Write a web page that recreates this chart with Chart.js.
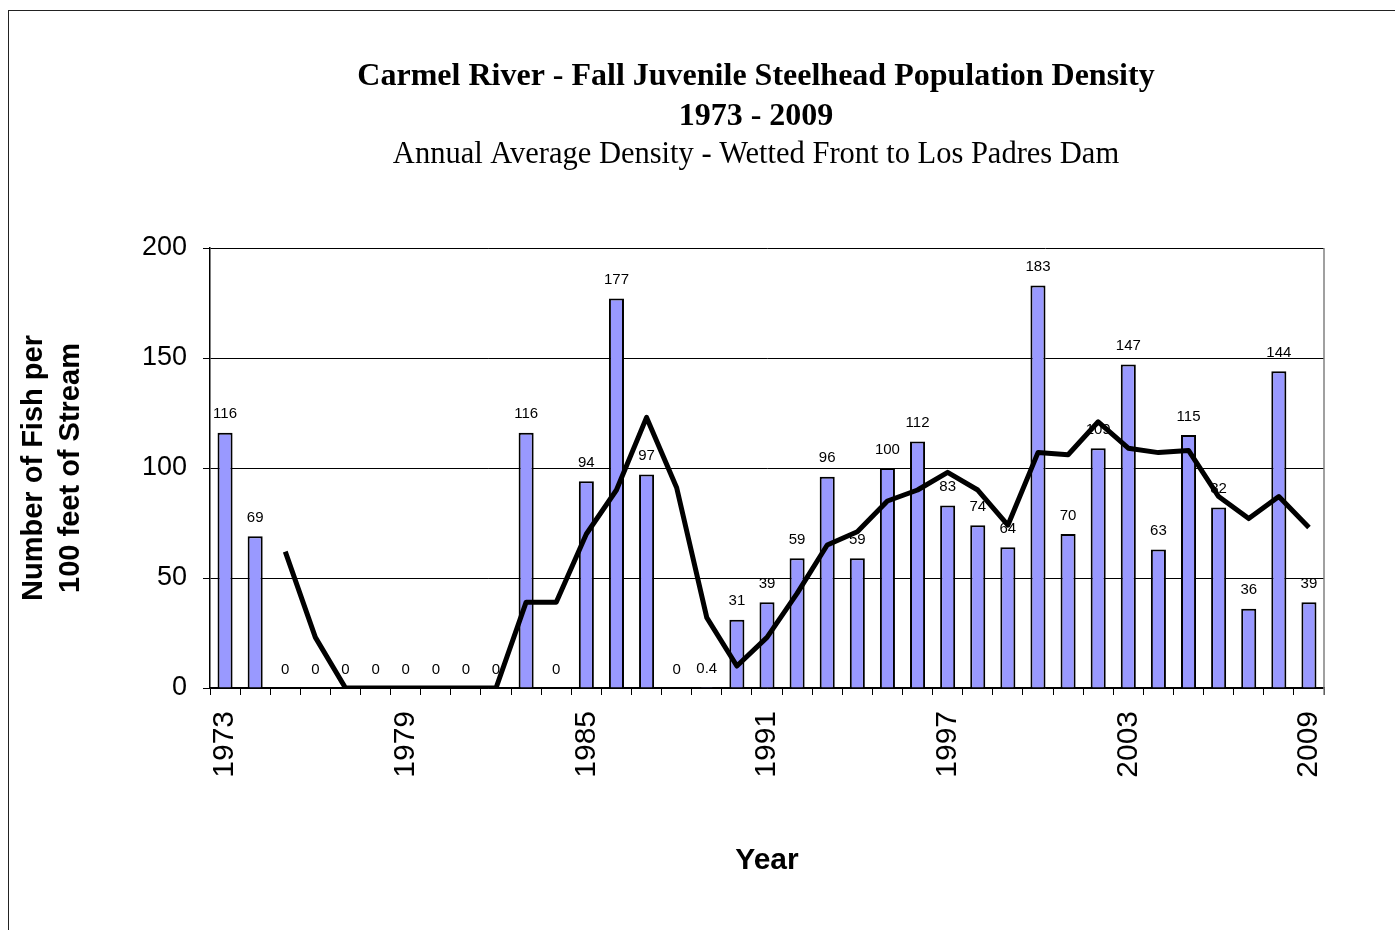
<!DOCTYPE html>
<html>
<head>
<meta charset="utf-8">
<script src="https://cdn.jsdelivr.net/npm/chart.js@4/dist/chart.umd.min.js"></script>
<style>
  html, body { margin: 0; padding: 0; background: #fff; }
  #wrap { position: relative; width: 1395px; height: 930px; }
  #frame {
    position: absolute; left: 8px; top: 10px; right: 0; bottom: 0;
    border-top: 1.5px solid #222; border-left: 1.5px solid #222;
    pointer-events: none;
  }
</style>
</head>
<body>
<div id="wrap">
  <canvas id="chart" width="1395" height="930"></canvas>
  <div id="frame"></div>
</div>
<script>
const YEARS = [
  "1973", "1974", "1975", "1976", "1977", "1978", "1979", "1980", "1981", "1982",
  "1983", "1984", "1985", "1986", "1987", "1988", "1989", "1990", "1991", "1992",
  "1993", "1994", "1995", "1996", "1997", "1998", "1999", "2000", "2001", "2002",
  "2003", "2004", "2005", "2006", "2007", "2008", "2009",
]

// annual average density (fish per 100 ft)
const DENSITY = [
  116, 69, 0, 0, 0, 0, 0, 0, 0, 0,
  116, 0, 94, 177, 97, 0, 0.4, 31, 39, 59,
  96, 59, 100, 112, 83, 74, 64, 183, 70, 109,
  147, 63, 115, 82, 36, 144, 39,
]

// 3-year running average line
const RUNNING_AVG = [
  null, null, 62, 23, 0, 0, 0, 0, 0, 0,
  39, 39, 70, 90, 123, 91, 32, 10, 23, 43,
  65, 71, 85, 90, 98, 90, 74, 107, 106, 121,
  109, 107, 108, 87, 77, 87, 73,
]

const SERIF = "'Liberation Serif', 'Times New Roman', serif"
const SANS = "'Liberation Sans', Arial, sans-serif"

const TITLE_LINES = [
  { text: "Carmel River - Fall Juvenile Steelhead Population Density", font: `bold 32px ${SERIF}`, y: 77 },
  { text: "1973 - 2009", font: `bold 32px ${SERIF}`, y: 117 },
  { text: "Annual Average Density - Wetted Front to Los Padres Dam", font: `30.5px ${SERIF}`, y: 155 },
]

Chart.defaults.font.family = SANS
Chart.defaults.color = "#000"

const titler = {
  id: "titler",
  afterDraw: (chart) => {
    const { ctx, chartArea } = chart
    const cx = (chartArea.left + chartArea.right) / 2 - 11

    ctx.save()
    ctx.fillStyle = "#000"
    ctx.textAlign = "center"
    ctx.textBaseline = "middle"
    for (const line of TITLE_LINES) {
      ctx.font = line.font
      ctx.fillText(line.text, cx, line.y)
    }
    ctx.restore()
  },
}

const plotEdge = {
  id: "plotEdge",
  beforeDatasetsDraw: (chart) => {
    const { ctx, chartArea } = chart
    ctx.save()
    ctx.strokeStyle = "#808080"
    ctx.lineWidth = 1.5
    ctx.beginPath()
    ctx.moveTo(chartArea.right, chartArea.top)
    ctx.lineTo(chartArea.right, chartArea.bottom + 7)
    ctx.stroke()
    ctx.restore()
  },
}

const barLabels = {
  id: "barLabels",
  afterDatasetDraw: (chart, args) => {
    if (args.index !== 0) return

    const { ctx } = chart
    const meta = args.meta

    ctx.save()
    ctx.font = `15px ${SANS}`
    ctx.fillStyle = "#000"
    ctx.textAlign = "center"
    ctx.textBaseline = "bottom"
    meta.data.forEach((bar, i) => {
      ctx.fillText(String(DENSITY[i]), bar.x, bar.y - 11)
    })
    ctx.restore()
  },
}

new Chart(document.getElementById("chart"), {
  type: "bar",
  data: {
    labels: YEARS,
    datasets: [
      {
        type: "bar",
        label: "Density",
        data: DENSITY,
        backgroundColor: "#9999ff",
        borderColor: "#000",
        borderWidth: 2,
        barPercentage: 0.5,
        categoryPercentage: 1.0,
        order: 1,
      },
      {
        type: "line",
        label: "3-year average",
        data: RUNNING_AVG,
        borderColor: "#000",
        borderWidth: 5,
        borderJoinStyle: "round",
        pointRadius: 0,
        tension: 0,
        spanGaps: false,
        order: 0,
      },
    ],
  },
  options: {
    animation: false,
    responsive: false,
    layout: {
      padding: { left: 14, top: 248, right: 71, bottom: 0 },
    },
    plugins: {
      legend: { display: false },
      tooltip: { enabled: false },
    },
    scales: {
      x: {
        offset: true,
        afterFit: (scale) => { scale.height = 242 },
        grid: {
          offset: true,
          drawOnChartArea: false,
          tickLength: 7,
          color: "#000",
        },
        border: { color: "#000", width: 1.5 },
        ticks: {
          autoSkip: false,
          minRotation: 90,
          maxRotation: 90,
          padding: 16,
          font: { size: 30 },
          callback: function (value, index) {
            return index % 6 === 0 ? YEARS[index] : ""
          },
        },
        title: {
          display: true,
          text: "Year",
          font: { size: 30, weight: "bold" },
          padding: { bottom: 51 },
        },
      },
      y: {
        min: 0,
        max: 200,
        afterFit: (scale) => { scale.width = 196 },
        grid: {
          color: "#000",
          lineWidth: 1,
          tickLength: 7,
        },
        border: { color: "#000", width: 1.5 },
        ticks: {
          stepSize: 50,
          padding: 16,
          font: { size: 27 },
        },
        title: {
          display: true,
          text: ["Number of Fish per", "100 feet of Stream"],
          font: { size: 29, weight: "bold", lineHeight: 1.28 },
          padding: { top: 1 },
        },
      },
    },
  },
  plugins: [titler, plotEdge, barLabels],
})
</script>
</body>
</html>
